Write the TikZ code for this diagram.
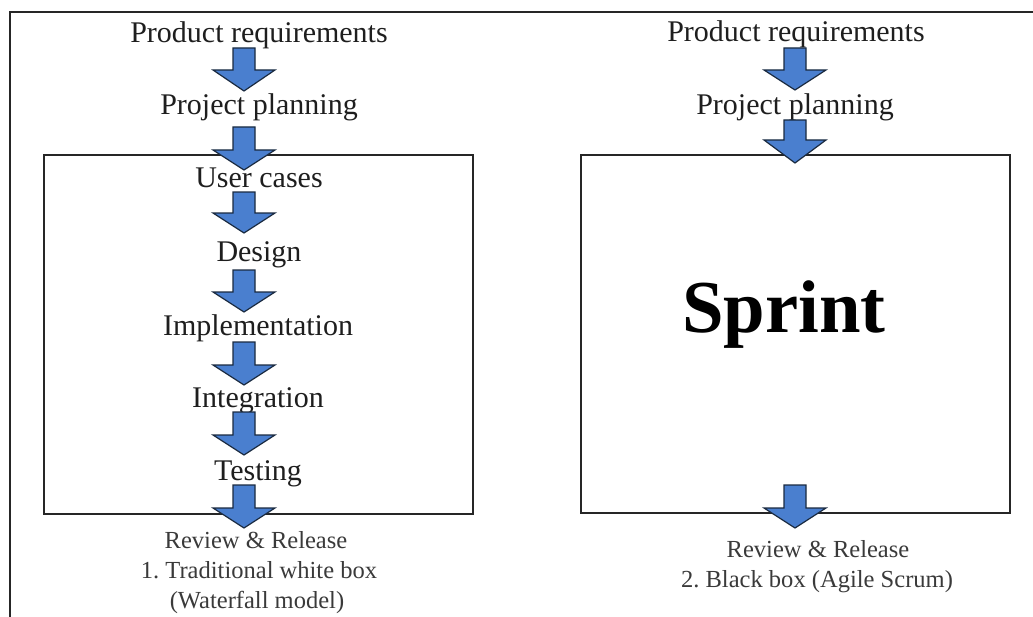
\documentclass[tikz,border=0pt]{standalone}
\usepackage{fontspec}
\setmainfont{Liberation Serif}
\definecolor{arrowblue}{HTML}{4A7FCF}
\definecolor{arrowline}{HTML}{1A2A40}
\definecolor{txt}{HTML}{1E1E1E}
\definecolor{txtb}{HTML}{3A3A3A}
\newcommand{\blockarrow}[4]{% x, shaft top, head base, tip
  \draw[blk] (#1-11,#2) -- (#1+11,#2) -- (#1+11,#3) -- (#1+31,#3) -- (#1,#4) -- (#1-31,#3) -- (#1-11,#3) -- cycle;}
\begin{document}
\begin{tikzpicture}[x=0.75pt,y=-0.75pt,
  lbl/.style={anchor=base, inner sep=0pt, text=txt, font=\fontsize{22.5}{27}\selectfont},
  sub/.style={anchor=base, inner sep=0pt, text=txtb, font=\fontsize{18.4}{22}\selectfont},
  big/.style={anchor=base, inner sep=0pt, text=black, font=\fontsize{56}{60}\selectfont\bfseries},
  frame/.style={draw=black!85, line width=1.5pt},
  blk/.style={fill=arrowblue, draw=arrowline, line width=0.9pt, line join=miter}]
\useasboundingbox (0,0) rectangle (1033,617);
% outer frame
\draw[frame] (10,617) -- (10,12) -- (1033,12);
% left column labels
\node[lbl] (l1) at (259,43) {Product requirements};
\node[lbl] (l2) at (259,115) {Project planning};
\node[lbl] (l3) at (259,188) {User cases};
\node[lbl] (l4) at (259,262) {Design};
\node[lbl] (l5) at (258,335) {Implementation};
\node[lbl] (l6) at (258,407) {Integration};
\node[lbl] (l7) at (258,480) {Testing};
\node[sub] (l8) at (256,548) {Review \& Release};
\node[sub] (l9) at (259,578) {1.\ Traditional white box};
\node[sub] (l10) at (257,608) {(Waterfall model)};
% right column labels
\node[lbl] (r1) at (796,42) {Product requirements};
\node[lbl] (r2) at (795,115) {Project planning};
\node[big] (sprint) at (784,332) {Sprint};
\node[sub] (r3) at (818,557) {Review \& Release};
\node[sub] (r4) at (817,587) {2.\ Black box (Agile Scrum)};
% boxes
\draw[frame] (44,155) rectangle (473,514);
\draw[frame] (581,155) rectangle (1010,513);
% left arrows
\blockarrow{244}{48}{70}{91}
\blockarrow{244}{127}{150}{170}
\blockarrow{244}{192}{213}{233}
\blockarrow{244}{270}{292}{312}
\blockarrow{244}{342}{365}{385}
\blockarrow{244}{412}{435}{455}
\blockarrow{244}{485}{508}{528}
% right arrows
\blockarrow{795}{48}{70}{90}
\blockarrow{795}{120}{140}{163}
\blockarrow{795}{485}{508}{528}
\end{tikzpicture}
\end{document}
